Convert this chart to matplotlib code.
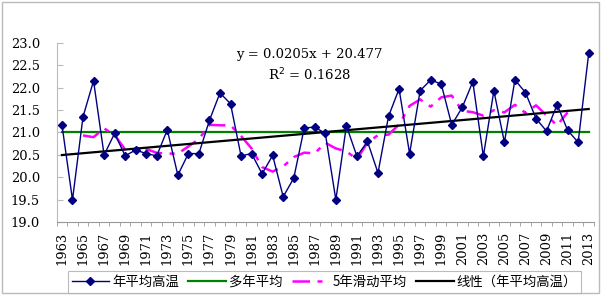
import numpy as np
import pandas as pd
import matplotlib
matplotlib.use("Agg")
import matplotlib.pyplot as plt
from matplotlib.patches import Rectangle

# 年份和年平均高温
years = list(range(1963, 2014))
high_temp = [21.17, 19.50, 21.35, 22.15, 20.50, 20.98, 20.48, 20.61, 20.53, 20.48,
             21.06, 20.05, 20.53, 20.53, 21.27, 21.88, 21.64, 20.48, 20.53, 20.08,
             20.49, 19.57, 19.98, 21.10, 21.12, 20.98, 19.50, 21.15, 20.47, 20.80,
             20.10, 21.36, 21.97, 20.53, 21.93, 22.17, 22.08, 21.17, 21.56, 22.13,
             20.47, 21.93, 20.78, 22.17, 21.89, 21.31, 21.03, 21.62, 21.05, 20.78,
             22.76]

# 线性趋势 y = 0.0205x + 20.477 (x 从 1 开始)
slope = 0.0205
intercept = 20.477
r2 = 0.1628

y_ticks = [19.0, 19.5, 20.0, 20.5, 21.0, 21.5, 22.0, 22.5, 23.0]

x = np.arange(len(years))
temp = np.array(high_temp)
mean_val = temp.mean()
ma5 = pd.Series(temp).rolling(5, center=True).mean()
trend = slope * (x + 1) + intercept

fig = plt.figure(figsize=(6.03, 2.95), dpi=100)
ax = fig.add_axes([0.094, 0.2464, 0.891, 0.609])

cjk = ['Noto Sans CJK SC', 'DejaVu Sans']
num_font = 'DejaVu Serif'

ax.plot(x, temp, color='#000080', lw=1.0, marker='D', ms=4.5, label='年平均高温', zorder=5)
ax.plot(x, np.full(len(x), mean_val), color='#008000', lw=1.6, label='多年平均', zorder=3)
ax.plot(x, ma5, color='#FF00FF', lw=1.8, dashes=(7, 3, 2, 3), label='5年滑动平均', zorder=4)
ax.plot(x, trend, color='black', lw=1.6, label='线性（年平均高温）', zorder=4)

ax.set_xlim(-0.5, len(years) - 0.5)
ax.set_ylim(19, 23)
ax.set_yticks(y_ticks)
ax.set_yticklabels([f'{v:.1f}' for v in y_ticks], family=num_font, fontsize=9.4)
ax.tick_params(axis='y', direction='in', length=4, color='#BBBBBB', pad=12)

ax.set_xticks(x[::2])
ax.set_xticklabels([str(y) for y in years[::2]], rotation=90, family=num_font, fontsize=9.4)
ax.set_xticks(np.arange(-0.5, len(years)), minor=True)
ax.tick_params(axis='x', which='major', length=0, pad=6.8)
ax.tick_params(axis='x', which='minor', direction='out', length=3, color='#999999')

for s in ['top', 'right']:
    ax.spines[s].set_visible(False)
ax.spines['left'].set_color('#BBBBBB')
ax.spines['bottom'].set_color('#999999')

ax.text(0.47, 0.935, f'y = {slope}x + {intercept}', transform=ax.transAxes,
        ha='center', va='center', family=num_font, fontsize=9.5)
ax.text(0.47, 0.82, f'R$^2$ = {r2}', transform=ax.transAxes,
        ha='center', va='center', family=num_font, fontsize=9.5)

leg = fig.legend(loc='center', bbox_to_anchor=(0.538, 0.0438), ncol=4, frameon=True,
                 fancybox=False, edgecolor='#AAAAAA', numpoints=1, handlelength=2.8,
                 handletextpad=0.25, columnspacing=0.7, borderpad=0.3,
                 prop={'family': cjk, 'size': 9.6})
leg.get_frame().set_linewidth(0.8)

fig.patches.append(Rectangle((0.004, 0.007), 0.99, 0.986, transform=fig.transFigure,
                             fill=False, edgecolor='#BBBBBB', lw=1.0))

fig.savefig('out.png', dpi=100)
